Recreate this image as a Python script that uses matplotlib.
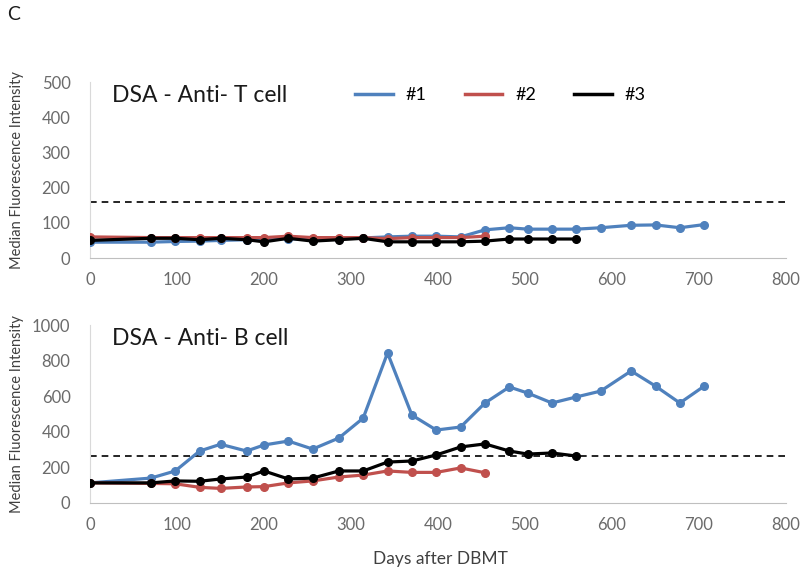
import matplotlib.pyplot as plt
from matplotlib.lines import Line2D

plt.rcParams['font.family'] = ['Lato', 'DejaVu Sans']

# sampling days (days after DBMT)
days1 = [0, 70, 98, 126, 150, 180, 200, 228, 256, 286, 314, 342, 370, 398, 426,
         454, 482, 503, 531, 559, 587, 622, 650, 678, 706]
days2 = [0, 70, 98, 126, 150, 180, 200, 228, 256, 286, 314, 342, 370, 398, 426, 454]
days3 = [0, 70, 98, 126, 150, 180, 200, 228, 256, 286, 314, 342, 370, 398, 426,
         454, 482, 503, 531, 559]

# anti T cell MFI
t_p1 = [45, 45, 47, 48, 50, 52, 55, 55, 52, 55, 57, 60, 62, 62, 60,
        80, 86, 82, 82, 82, 86, 93, 94, 86, 95]
t_p2 = [60, 58, 58, 58, 58, 58, 58, 62, 58, 58, 58, 55, 58, 58, 58, 62]
t_p3 = [50, 56, 56, 52, 56, 52, 46, 56, 48, 52, 56, 46, 46, 46, 46,
        48, 54, 54, 54, 54]
t_cutoff = 160

# anti B cell MFI
b_p1 = [113, 140, 180, 292, 330, 292, 326, 348, 303, 365, 477, 843, 494, 410, 427,
        562, 652, 618, 562, 596, 629, 742, 657, 562, 657]
b_p2 = [113, 110, 108, 88, 82, 90, 92, 113, 124, 146, 157, 180, 172, 172, 197, 170]
b_p3 = [113, 113, 124, 122, 135, 146, 180, 135, 140, 180, 180, 230, 236, 270, 315,
        332, 292, 275, 281, 264]
b_cutoff = 265

labels = ['#1', '#2', '#3']
colors = ['#4F81BD', '#C0504D', '#000000']

fig = plt.figure(figsize=(8.0, 5.74), dpi=100)
ax1 = fig.add_axes([0.1125, 0.5505, 0.87, 0.3066])
ax2 = fig.add_axes([0.1125, 0.1237, 0.87, 0.31])


def style(ax, ymax, ystep):
    ax.set_xlim(0, 800)
    ax.set_ylim(0, ymax)
    ax.set_xticks(range(0, 801, 100))
    ax.set_yticks(range(0, ymax + 1, ystep))
    for s in ['top', 'right']:
        ax.spines[s].set_visible(False)
    ax.spines['left'].set_color('#d9d9d9')
    ax.spines['bottom'].set_color('#bfbfbf')
    ax.tick_params(length=0, labelsize=12, labelcolor='#6b6b6b')
    ax.tick_params(axis='y', pad=14)
    ax.tick_params(axis='x', pad=10)
    ax.set_ylabel('Median Fluorescence Intensity', fontsize=10.5, color='#404040')
    ax.yaxis.set_label_coords(-0.095, 0.5)


def draw(ax, series, cutoff):
    for (x, y), c in zip(series, colors):
        ax.plot(x, y, color=c, lw=2.3, marker='o', ms=5.5, zorder=3)
    ax.axhline(cutoff, color='black', lw=1.2, ls=(0, (4, 3)), zorder=2)


draw(ax1, [(days1, t_p1), (days2, t_p2), (days3, t_p3)], t_cutoff)
style(ax1, 500, 100)
ax1.text(0.032, 0.925, 'DSA - Anti- T cell', transform=ax1.transAxes,
         fontsize=16.5, color='#1a1a1a', va='center')
handles = [Line2D([], [], color=c, lw=2.5) for c in colors]
ax1.legend(handles, labels, ncol=3, frameon=False, fontsize=13,
           loc='center left', bbox_to_anchor=(0.381, 0.925), borderpad=0,
           borderaxespad=0, handlelength=2.1, handletextpad=0.7,
           columnspacing=2.1)

draw(ax2, [(days1, b_p1), (days2, b_p2), (days3, b_p3)], b_cutoff)
style(ax2, 1000, 200)
ax2.text(0.032, 0.925, 'DSA - Anti- B cell', transform=ax2.transAxes,
         fontsize=16.5, color='#1a1a1a', va='center')

fig.text(0.009, 0.975, 'C', fontsize=14, color='#1a1a1a', va='center')
fig.text(0.55, 0.012, 'Days after DBMT', fontsize=12.5, color='#404040',
         ha='center', va='bottom')

fig.savefig('out.png', dpi=100)
